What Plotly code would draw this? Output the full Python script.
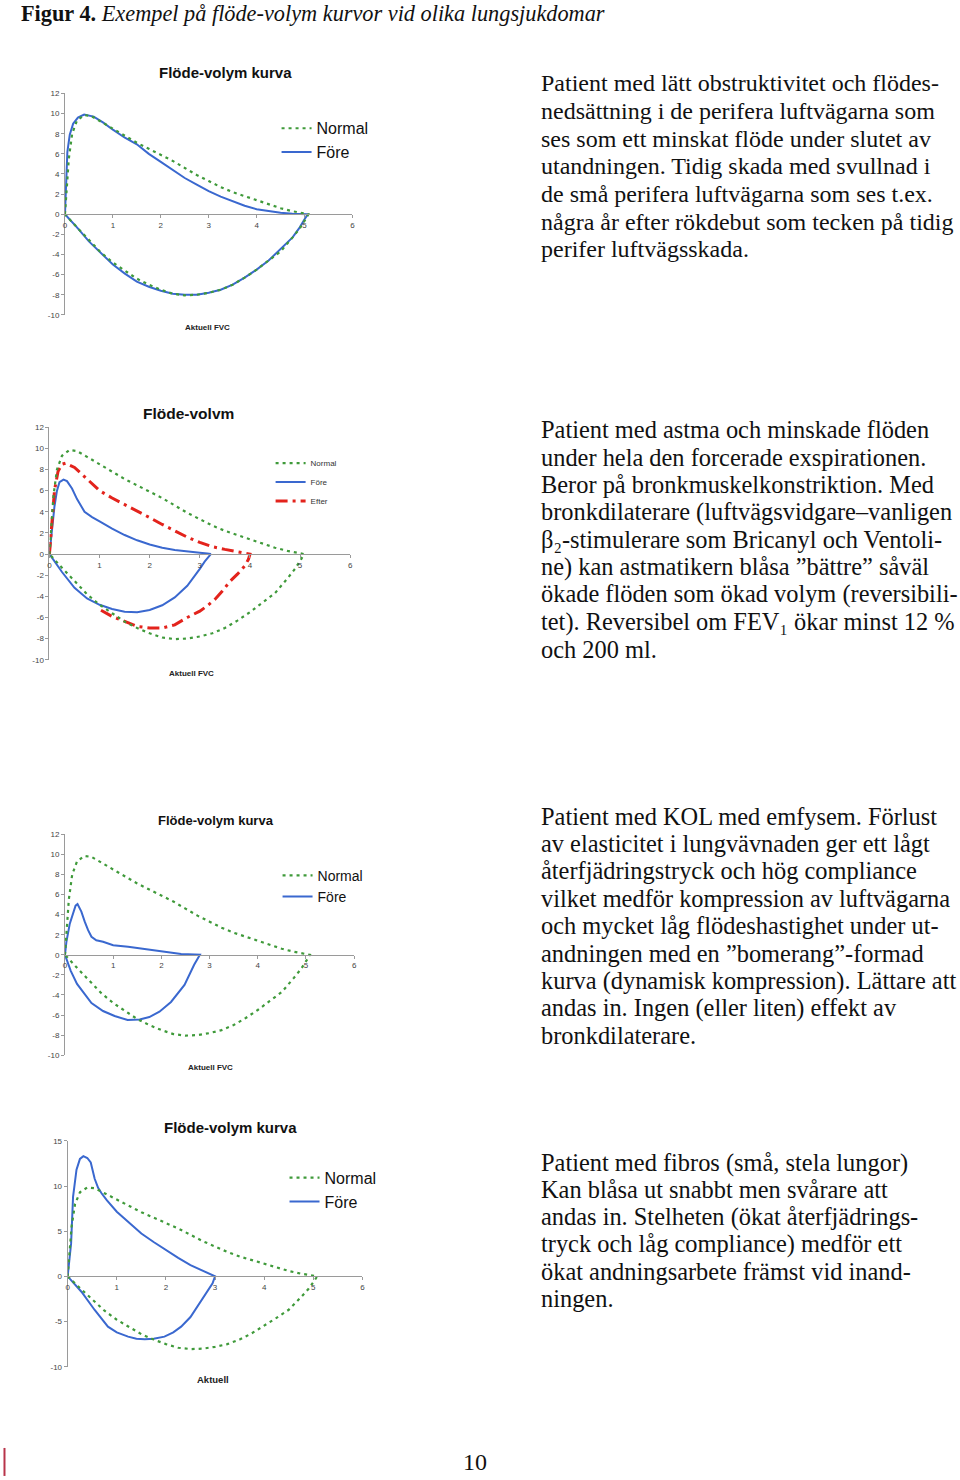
import plotly.graph_objects as go

W, H = 960, 1480

# ---------------- data (volume L, flow L/s) ----------------
NORMAL_VOL = [0, 0.03, 0.08, 0.15, 0.25, 0.4, 0.55, 0.75, 1.0, 1.25, 1.5, 1.75, 2.0, 2.25, 2.5, 2.75,
              3.0, 3.25, 3.5, 3.75, 4.0, 4.25, 4.5, 4.75, 5.0, 5.08,
              5.02, 4.9, 4.75, 4.5, 4.25, 4.0, 3.75, 3.5, 3.25, 3.0, 2.75, 2.5, 2.25, 2.0, 1.75,
              1.5, 1.25, 1.0, 0.75, 0.5, 0.25, 0]
NORMAL_FLOW = [0, 2.5, 5.5, 8.0, 9.3, 9.85, 9.75, 9.2, 8.5, 7.8, 7.1, 6.5, 5.9, 5.3, 4.6, 3.9,
               3.3, 2.7, 2.2, 1.8, 1.4, 1.0, 0.6, 0.3, 0.05, 0,
               -0.5, -1.4, -2.3, -3.7, -4.6, -5.5, -6.3, -7.0, -7.5, -7.8, -8.0, -8.05, -7.9, -7.5, -7.0,
               -6.4, -5.6, -4.8, -3.8, -2.6, -1.3, 0]

# Chart 1: lätt obstruktivitet
FORE1_VOL = [0, 0.02, 0.05, 0.1, 0.17, 0.27, 0.4, 0.6, 0.8, 1.0, 1.25, 1.5, 1.75, 2.0, 2.25, 2.5,
             2.75, 3.0, 3.25, 3.5, 3.75, 4.0, 4.25, 4.5, 4.75, 5.07,
             5.0, 4.9, 4.75, 4.5, 4.25, 4.0, 3.75, 3.5, 3.25, 3.0, 2.75, 2.5, 2.25, 2.0, 1.75,
             1.5, 1.25, 1.0, 0.75, 0.5, 0.25, 0]
FORE1_FLOW = [0, 3.2, 6.2, 7.9, 9.0, 9.6, 9.9, 9.7, 9.1, 8.4, 7.6, 6.95, 6.0, 5.2, 4.4, 3.6,
              2.95, 2.3, 1.75, 1.3, 0.85, 0.5, 0.3, 0.15, 0.05, 0,
              -0.5, -1.3, -2.3, -3.5, -4.6, -5.5, -6.3, -7.0, -7.5, -7.8, -8.0, -8.0, -7.9, -7.6, -7.2,
              -6.7, -5.9, -5.0, -3.9, -2.7, -1.3, 0]

# Chart 2: astma
FORE2_VOL = [0, 0.05, 0.1, 0.15, 0.2, 0.28, 0.35, 0.45, 0.55, 0.7, 0.85, 1.0, 1.25, 1.5, 1.75, 2.0,
             2.25, 2.5, 2.75, 3.0, 3.15, 3.22,
             3.1, 3.0, 2.75, 2.5, 2.25, 2.0, 1.75, 1.5, 1.25, 1.0, 0.75, 0.5, 0.25, 0]
FORE2_FLOW = [0, 2.5, 4.5, 6.0, 6.8, 7.05, 6.9, 6.2, 5.2, 4.0, 3.5, 3.1, 2.4, 1.8, 1.3, 0.9,
              0.6, 0.38, 0.22, 0.12, 0.05, 0,
              -0.7, -1.4, -3.0, -4.1, -4.85, -5.3, -5.5, -5.45, -5.2, -4.8, -4.2, -3.2, -1.7, 0]
EFTER2_VOL = [0, 0.05, 0.1, 0.17, 0.25, 0.32, 0.5, 0.75, 1.0, 1.25, 1.5, 1.75, 2.0, 2.25, 2.5, 2.75,
              3.0, 3.25, 3.5, 3.75, 3.92, 4.0,
              3.97, 3.9, 3.75, 3.6, 3.45, 3.3, 3.15, 3.0, 2.75, 2.5, 2.25, 2.0, 1.75, 1.5, 1.25, 1.0]
EFTER2_FLOW = [0, 3.0, 6.0, 7.8, 8.5, 8.6, 8.2, 7.1, 6.0, 5.3, 4.7, 4.1, 3.45, 2.8, 2.2, 1.6,
               1.1, 0.7, 0.44, 0.2, 0.05, 0,
               -0.5, -1.1, -1.9, -2.6, -3.5, -4.3, -4.9, -5.4, -6.0, -6.7, -7.0, -7.0, -6.85, -6.4, -5.9, -5.25]

# Chart 3: KOL med emfysem
FORE3_VOL = [0, 0.03, 0.1, 0.17, 0.22, 0.26, 0.34, 0.41, 0.48, 0.55, 0.65, 0.79, 1.0, 1.31, 1.58, 2.0,
             2.41, 2.8,
             2.68, 2.48, 2.2, 1.96, 1.75, 1.55, 1.3, 1.03, 0.79, 0.55, 0.4, 0.25, 0.12, 0]
FORE3_FLOW = [0, 1.3, 3.1, 4.3, 4.9, 5.05, 4.3, 3.3, 2.45, 1.8, 1.45, 1.3, 0.96, 0.8, 0.63, 0.3,
              0.07, 0,
              -1.0, -3.0, -4.7, -5.67, -6.2, -6.45, -6.5, -6.1, -5.6, -4.8, -3.9, -2.9, -1.6, 0]

# Chart 4: fibros
FORE4_VOL = [0, 0.04, 0.07, 0.11, 0.18, 0.25, 0.32, 0.4, 0.47, 0.55, 0.62, 0.69, 0.8, 1.0, 1.25, 1.5,
             1.75, 2.0, 2.25, 2.5, 2.75, 3.0,
             2.95, 2.8, 2.65, 2.5, 2.31, 2.15, 1.97, 1.75, 1.57, 1.4, 1.23, 1.0, 0.82, 0.55, 0.28, 0]
FORE4_FLOW = [0, 1.8, 3.65, 8.8, 11.8, 13.0, 13.3, 13.1, 12.6, 10.8, 9.8, 9.2, 8.4, 7.15, 5.9, 4.75,
              3.8, 2.9, 2.05, 1.25, 0.6, 0,
              -0.77, -2.0, -3.35, -4.5, -5.57, -6.2, -6.67, -6.9, -6.97, -6.9, -6.67, -6.2, -5.57, -3.72, -1.7, 0]

X_TICKS = [0, 1, 2, 3, 4, 5, 6]
Y_TICKS_A = [-10, -8, -6, -4, -2, 0, 2, 4, 6, 8, 10, 12]
Y_TICKS_B = [-10, -5, 0, 5, 10, 15]

TITLES = ["Flöde-volym kurva", "Flöde-volvm", "Flöde-volym kurva", "Flöde-volym kurva"]
XLABELS = ["Aktuell FVC", "Aktuell FVC", "Aktuell FVC", "Aktuell"]

HEADER_BOLD = "Figur 4."
HEADER_ITALIC = "Exempel på flöde-volym kurvor vid olika lungsjukdomar"

TEXT1 = ["Patient med lätt obstruktivitet och flödes-",
         "nedsättning i de perifera luftvägarna som",
         "ses som ett minskat flöde under slutet av",
         "utandningen. Tidig skada med svullnad i",
         "de små perifera luftvägarna som ses t.ex.",
         "några år efter rökdebut som tecken på tidig",
         "perifer luftvägsskada."]
TEXT2 = ["Patient med astma och minskade flöden",
         "under hela den forcerade exspirationen.",
         "Beror på bronkmuskelkonstriktion. Med",
         "bronkdilaterare (luftvägsvidgare–vanligen",
         "β₂-stimulerare som Bricanyl och Ventoli-",
         "ne) kan astmatikern blåsa ”bättre” såväl",
         "ökade flöden som ökad volym (reversibili-",
         "tet). Reversibel om FEV₁ ökar minst 12 %",
         "och 200 ml."]
TEXT3 = ["Patient med KOL med emfysem. Förlust",
         "av elasticitet i lungvävnaden ger ett lågt",
         "återfjädringstryck och hög compliance",
         "vilket medför kompression av luftvägarna",
         "och mycket låg flödeshastighet under ut-",
         "andningen med en ”bomerang”-formad",
         "kurva (dynamisk kompression). Lättare att",
         "andas in. Ingen (eller liten) effekt av",
         "bronkdilaterare."]
TEXT4 = ["Patient med fibros (små, stela lungor)",
         "Kan blåsa ut snabbt men svårare att",
         "andas in. Stelheten (ökat återfjädrings-",
         "tryck och låg compliance) medför ett",
         "ökat andningsarbete främst vid inand-",
         "ningen."]
PAGE_NO = "10"

# ---------------- layout helpers ----------------
# small empirical correction for the vertical placement of the page capture
VOFF, VSCALE = 3.2, 0.9945

def px(x):
    return x / W

def py(y):
    return 1 - ((y - VOFF) / VSCALE) / H

GREEN = "#3f9a3a"
BLUE = "#3a68cf"
RED = "#e3231c"
AXC = "#9a9a9a"
TICKF = dict(family="Liberation Sans", size=8, color="#444")

PANELS = [
    dict(x0=63.3, x6=352.3, yt=92.7, yb=314.3, ymax=12, ymin=-10, yticks=Y_TICKS_A),
    dict(x0=47.7, x6=350.0, yt=426.7, yb=659.3, ymax=12, ymin=-10, yticks=Y_TICKS_A),
    dict(x0=63.3, x6=354.0, yt=834.0, yb=1055.0, ymax=12, ymin=-10, yticks=Y_TICKS_A),
    dict(x0=66.0, x6=362.3, yt=1140.7, yb=1366.7, ymax=15, ymin=-10, yticks=Y_TICKS_B),
]

fig = go.Figure()

green_line = dict(color=GREEN, width=2.2, dash="3px,4px")
blue_line = dict(color=BLUE, width=2)
red_line = dict(color=RED, width=3, dash="12px,5px,3px,5px")

fig.add_trace(go.Scatter(x=FORE1_VOL, y=FORE1_FLOW, mode="lines", name="Före", line=blue_line,
                         xaxis="x", yaxis="y", legend="legend", legendrank=2))
fig.add_trace(go.Scatter(x=NORMAL_VOL, y=NORMAL_FLOW, mode="lines", name="Normal", line=green_line,
                         xaxis="x", yaxis="y", legend="legend", legendrank=1))
fig.add_trace(go.Scatter(x=FORE2_VOL, y=FORE2_FLOW, mode="lines", name="Före", line=blue_line,
                         xaxis="x2", yaxis="y2", legend="legend2", legendrank=2))
fig.add_trace(go.Scatter(x=EFTER2_VOL, y=EFTER2_FLOW, mode="lines", name="Efter", line=red_line,
                         xaxis="x2", yaxis="y2", legend="legend2", legendrank=3))
fig.add_trace(go.Scatter(x=NORMAL_VOL, y=NORMAL_FLOW, mode="lines", name="Normal", line=green_line,
                         xaxis="x2", yaxis="y2", legend="legend2", legendrank=1))
fig.add_trace(go.Scatter(x=FORE3_VOL, y=FORE3_FLOW, mode="lines", name="Före", line=blue_line,
                         xaxis="x3", yaxis="y3", legend="legend3", legendrank=2))
fig.add_trace(go.Scatter(x=NORMAL_VOL, y=NORMAL_FLOW, mode="lines", name="Normal", line=green_line,
                         xaxis="x3", yaxis="y3", legend="legend3", legendrank=1))
fig.add_trace(go.Scatter(x=FORE4_VOL, y=FORE4_FLOW, mode="lines", name="Före", line=blue_line,
                         xaxis="x4", yaxis="y4", legend="legend4", legendrank=2))
fig.add_trace(go.Scatter(x=NORMAL_VOL, y=NORMAL_FLOW, mode="lines", name="Normal", line=green_line,
                         xaxis="x4", yaxis="y4", legend="legend4", legendrank=1))

layout = dict(width=W, height=H, margin=dict(l=0, r=0, t=0, b=0),
              paper_bgcolor="white", plot_bgcolor="white", showlegend=True)

annotations = []
for i, p in enumerate(PANELS):
    sfx = "" if i == 0 else str(i + 1)
    zero_px = p["yt"] + (p["yb"] - p["yt"]) * p["ymax"] / (p["ymax"] - p["ymin"])
    layout["xaxis" + sfx] = dict(domain=[px(p["x0"]), px(p["x6"])], range=[0, 6],
                                 anchor="free", position=py(zero_px),
                                 showline=True, linecolor=AXC, linewidth=1,
                                 ticks="outside", ticklen=3, tickcolor=AXC, tickwidth=1,
                                 tickvals=X_TICKS, ticktext=[str(v) for v in X_TICKS],
                                 tickfont=TICKF, showgrid=False,
                                 zeroline=False, fixedrange=True)
    layout["yaxis" + sfx] = dict(domain=[py(p["yb"]), py(p["yt"])], range=[p["ymin"], p["ymax"]],
                                 anchor="x" + sfx, showline=True, linecolor=AXC, linewidth=1,
                                 ticks="outside", ticklen=3, tickcolor=AXC, tickwidth=1,
                                 tickvals=p["yticks"], ticktext=[str(v) for v in p["yticks"]],
                                 tickfont=TICKF, showgrid=False,
                                 zeroline=False, fixedrange=True)

TITLE_POS = [(225, 72, 15), (187, 413, 15.5), (215, 820, 13), (230, 1127, 15)]
XLAB_POS = [(207, 327, 8), (190, 673, 8), (210, 1067, 8), (212, 1380, 9.5)]
for t, (x, y, s) in zip(TITLES, TITLE_POS):
    annotations.append(dict(text="<b>" + t + "</b>", x=px(x), y=py(y), xref="paper", yref="paper",
                            showarrow=False, xanchor="center", yanchor="middle",
                            font=dict(family="Liberation Sans", size=s, color="#111")))
for t, (x, y, s) in zip(XLABELS, XLAB_POS):
    annotations.append(dict(text="<b>" + t + "</b>", x=px(x), y=py(y), xref="paper", yref="paper",
                            showarrow=False, xanchor="center", yanchor="middle",
                            font=dict(family="Liberation Sans", size=s, color="#222")))

layout["legend"] = dict(x=px(276), y=py(110.6), xanchor="left", yanchor="top", bgcolor="rgba(0,0,0,0)",
                        font=dict(family="Liberation Sans", size=16, color="#111"), tracegroupgap=0)
layout["legend2"] = dict(x=px(270), y=py(448), xanchor="left", yanchor="top", bgcolor="rgba(0,0,0,0)",
                         font=dict(family="Liberation Sans", size=8, color="#333"), tracegroupgap=0)
layout["legend3"] = dict(x=px(277), y=py(859.5), xanchor="left", yanchor="top", bgcolor="rgba(0,0,0,0)",
                         font=dict(family="Liberation Sans", size=14, color="#111"), tracegroupgap=0)
layout["legend4"] = dict(x=px(284), y=py(1160.7), xanchor="left", yanchor="top", bgcolor="rgba(0,0,0,0)",
                         font=dict(family="Liberation Sans", size=16, color="#111"), tracegroupgap=0)

annotations.append(dict(text="<b>" + HEADER_BOLD + "</b> <i>" + HEADER_ITALIC + "</i>",
                        x=px(17), y=py(13), xref="paper", yref="paper", showarrow=False,
                        xanchor="left", yanchor="middle",
                        font=dict(family="Liberation Serif", size=22.3, color="#111")))

def add_par(lines, x, first_base, step, size):
    for k, ln in enumerate(lines):
        base = first_base + k * step
        annotations.append(dict(text=ln, x=px(x), y=py(base - 0.3 * size), xref="paper", yref="paper",
                                showarrow=False, xanchor="left", yanchor="middle",
                                font=dict(family="Liberation Serif", size=size, color="#111")))

add_par(TEXT1, 540, 89.7, 27.7, 24)
add_par(TEXT2, 540, 436.3, 27.5, 24.4)
add_par(TEXT3, 540, 823.0, 27.5, 24.4)
add_par(TEXT4, 540, 1169.7, 27.3, 24.4)

annotations.append(dict(text=PAGE_NO, x=px(475), y=py(1462), xref="paper", yref="paper",
                        showarrow=False, xanchor="center", yanchor="middle",
                        font=dict(family="Liberation Serif", size=24, color="#111")))

layout["annotations"] = annotations
layout["shapes"] = [dict(type="line", xref="paper", yref="paper", x0=px(2.5), x1=px(2.5),
                         y0=py(1448), y1=py(1476), line=dict(color="#b8344a", width=2))]

fig.update_layout(**layout)

PAGE_JS = ("document.documentElement.style.margin='0';document.documentElement.style.overflow='hidden';"
           "document.body.style.margin='0';document.body.style.padding='0';document.body.style.overflow='hidden';")
fig.write_html("out.html", config={"displayModeBar": False}, post_script=PAGE_JS)
